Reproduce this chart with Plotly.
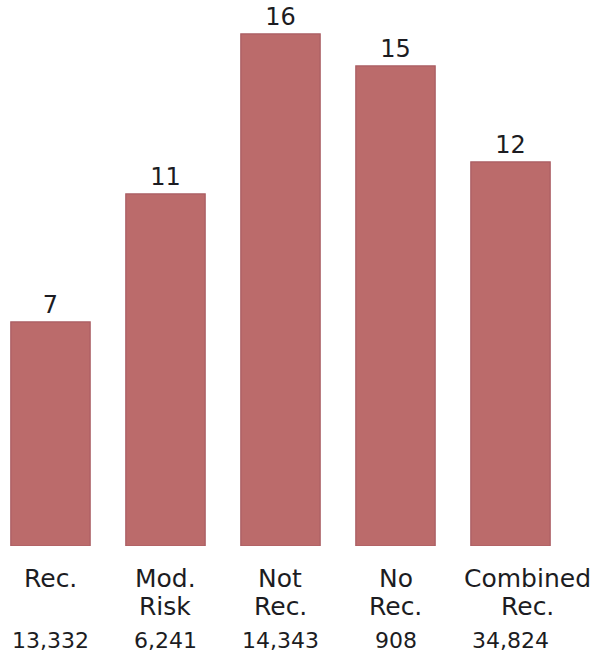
import plotly.graph_objects as go

# Bar categories, split into the label lines drawn under each bar
label_line1 = ["Rec.", "Mod.", "Not", "No", "Combined"]
label_line2 = ["", "Risk", "Rec.", "Rec.", "Rec."]
values = [7, 11, 16, 15, 12]
counts = ["13,332", "6,241", "14,343", "908", "34,824"]

x_idx = list(range(len(values)))
font_family = "DejaVu Sans, Open Sans, sans-serif"
text_color = "#1c1c22"

fig = go.Figure(
    go.Bar(
        x=x_idx,
        y=values,
        width=0.69,
        marker=dict(color="#bb6b6b", line=dict(color="#a95c62", width=1.2)),
        text=[str(v) for v in values],
        textposition="outside",
        textfont=dict(family=font_family, size=24, color=text_color),
        cliponaxis=False,
        hoverinfo="skip",
    )
)

annotations = []
for i in x_idx:
    # the long last label sits a little right of its bar
    shift = 17 if label_line1[i] == "Combined" else 0
    annotations.append(dict(x=i, y=0, xref="x", yref="y", text=label_line1[i],
                            showarrow=False, yanchor="middle", yshift=-32, xshift=shift,
                            font=dict(family=font_family, size=25, color=text_color)))
    if label_line2[i]:
        annotations.append(dict(x=i, y=0, xref="x", yref="y", text=label_line2[i],
                                showarrow=False, yanchor="middle", yshift=-60, xshift=shift,
                                font=dict(family=font_family, size=25, color=text_color)))
    annotations.append(dict(x=i, y=0, xref="x", yref="y", text=counts[i],
                            showarrow=False, yanchor="middle", yshift=-94,
                            font=dict(family=font_family, size=22, color=text_color)))

fig.update_layout(
    width=604,
    height=654,
    margin=dict(l=0, r=0, t=0, b=108),
    paper_bgcolor="white",
    plot_bgcolor="white",
    showlegend=False,
    annotations=annotations,
    xaxis=dict(range=[-0.439, 4.813], visible=False, fixedrange=True),
    yaxis=dict(range=[0, 17.06], visible=False, fixedrange=True),
)

fig.write_html("out.html", config={"displayModeBar": False})
